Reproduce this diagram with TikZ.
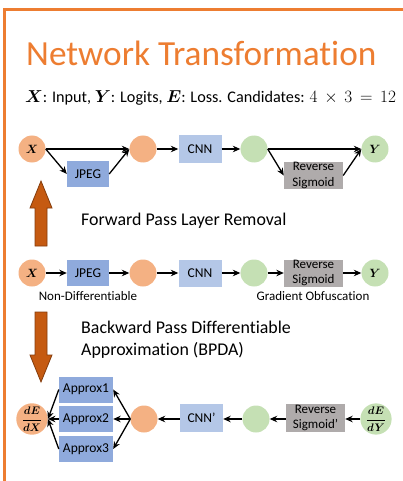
\documentclass[tikz,border=0pt]{standalone}
\usepackage{amsmath}
\usepackage{fontspec}
\setmainfont{Carlito}[Ligatures={NoCommon}]
\usetikzlibrary{arrows.meta,positioning}
\definecolor{orng}{HTML}{ED7D31}
\definecolor{lorng}{HTML}{F4B183}
\definecolor{lgreen}{HTML}{C5E0B4}
\definecolor{jblue}{HTML}{8FAADC}
\definecolor{cblue}{HTML}{B4C7E7}
\definecolor{rgray}{HTML}{AFABAB}
\definecolor{barrow}{HTML}{C55A11}
\definecolor{barrowd}{HTML}{843C0C}
\begin{document}
\begin{tikzpicture}[x=1pt,y=-1pt,
  oc/.style={circle, fill=lorng, minimum size=27, inner sep=0, font=\fontsize{12.5}{12}\selectfont},
  gc/.style={circle, fill=lgreen, minimum size=27, inner sep=0, font=\fontsize{12.5}{12}\selectfont},
  jbox/.style={fill=jblue, minimum width=42, minimum height=26, inner sep=0, font=\fontsize{13.5}{14}\selectfont},
  abox/.style={fill=jblue, minimum width=54, minimum height=26, inner sep=0, font=\fontsize{13.5}{14}\selectfont},
  cbox/.style={fill=cblue, minimum width=43, minimum height=27, inner sep=0, font=\fontsize{13.5}{14}\selectfont},
  rbox/.style={fill=rgray, minimum width=59, minimum height=27, inner sep=0, align=center, font=\fontsize{13}{15.5}\selectfont},
  arr/.style={-{Stealth[length=7.5,width=6.5,inset=2.5]}, line width=1.3},
  bigarrow/.style={fill=barrow, draw=barrowd, line width=0.8},
  lbl/.style={font=\fontsize{13}{14}\selectfont, inner sep=0},
  frc/.style={font=\fontsize{11}{11}\selectfont}
]
\useasboundingbox (0,0) rectangle (402,481);
% frame
\draw[orng, line width=2.5] (4.5,482) -- (4.5,9.5) -- (403,9.5);
% title
\node[anchor=west, text=orng, font=\fontsize{35.3}{38}\selectfont, inner sep=0] (title) at (26,53) {Network Transformation};
\node[anchor=west, font=\fontsize{16.2}{18}\selectfont, inner sep=0] (sub) at (25,98)
  {$\boldsymbol{X}$: Input, $\boldsymbol{Y}$: Logits, $\boldsymbol{E}$: Loss. Candidates: $4\mathbin{\,\times\,}3\mathrel{\,=\,}12$};

% Row 1
\node[oc] (x1) at (32,149) {$\boldsymbol{X}$};
\node[jbox] (j1) at (88,174) {JPEG};
\node[oc] (c1) at (143,149) {};
\node[cbox] (n1) at (200,149) {CNN};
\node[gc] (g1) at (254,149) {};
\node[rbox] (r1) at (313.5,175.5) {Reverse\\Sigmoid};
\node[gc] (y1) at (375,149) {$\boldsymbol{Y}$};
\draw[arr] (x1.east) -- (c1.west);
\draw[arr] (x1.east) -- (j1.west);
\draw[arr] (j1.east) -- (c1.west);
\draw[arr] (c1.east) -- (n1.west);
\draw[arr] (n1.east) -- (g1.west);
\draw[arr] (g1.east) -- (y1.west);
\draw[arr] (g1.east) -- (r1.west);
\draw[arr] (r1.east) -- (y1.west);

% up arrow
\draw[bigarrow] (35,246) -- (35,208) -- (30,208) -- (41,181) -- (52,208) -- (47,208) -- (47,246) -- cycle;
\node[anchor=west, font=\fontsize{17.9}{20}\selectfont, inner sep=0] (fwd) at (81,221) {Forward Pass Layer Removal};

% Row 2
\node[oc] (x2) at (32,273) {$\boldsymbol{X}$};
\node[jbox] (j2) at (88,273) {JPEG};
\node[oc] (c2) at (143,273) {};
\node[cbox] (n2) at (200,273) {CNN};
\node[gc] (g2) at (254,273) {};
\node[rbox] (r2) at (313.5,273) {Reverse\\Sigmoid};
\node[gc] (y2) at (375,273) {$\boldsymbol{Y}$};
\draw[arr] (x2) -- (j2);
\draw[arr] (j2) -- (c2);
\draw[arr] (c2) -- (n2);
\draw[arr] (n2) -- (g2);
\draw[arr] (g2) -- (r2);
\draw[arr] (r2) -- (y2);
\node[lbl] (nd) at (88,296) {Non-Differentiable};
\node[lbl] (go) at (313,296) {Gradient Obfuscation};

% down arrow
\draw[bigarrow] (35,312) -- (35,355) -- (30,355) -- (41,382) -- (52,355) -- (47,355) -- (47,312) -- cycle;
\node[anchor=north west, align=left, font=\fontsize{17.9}{21.5}\selectfont, inner sep=0] (bwd) at (81,321)
  {Backward Pass Differentiable\\Approximation (BPDA)};

% Row 3
\node[oc, frc] (d1) at (32,419) {$\displaystyle\boldsymbol{\frac{dE}{dX}}$};
\node[abox] (a1) at (86,389.5) {Approx1};
\node[abox] (a2) at (86,419) {Approx2};
\node[abox] (a3) at (86,449) {Approx3};
\node[oc] (c3) at (144,419) {};
\node[cbox, minimum width=43, minimum height=28] (n3) at (201.5,418) {CNN’};
\node[gc] (g3) at (256,419) {};
\node[rbox, minimum height=28] (r3) at (315.5,418) {Reverse\\Sigmoid’};
\node[gc, frc] (dy) at (376,419) {$\displaystyle\boldsymbol{\frac{dE}{dY}}$};
\draw[arr] (dy) -- (r3.east |- dy);
\draw[arr] (r3.west |- g3) -- (g3);
\draw[arr] (g3) -- (n3.east |- g3);
\draw[arr] (n3.west |- c3) -- (c3);
\draw[arr] (c3.west) -- (a1.east);
\draw[arr] (c3.west) -- (a2.east);
\draw[arr] (c3.west) -- (a3.east);
\draw[arr] (a1.west) -- (d1.east);
\draw[arr] (a2.west) -- (d1.east);
\draw[arr] (a3.west) -- (d1.east);
\end{tikzpicture}
\end{document}
